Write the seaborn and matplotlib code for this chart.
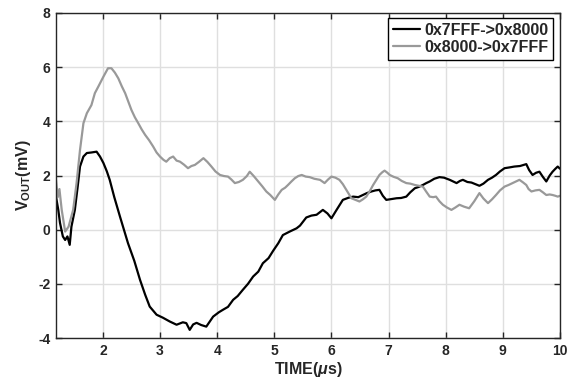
import matplotlib
matplotlib.use("Agg")
import matplotlib.pyplot as plt
import seaborn as sns
import pandas as pd

# ---- data ----
series_names = ["0x7FFF->0x8000", "0x8000->0x7FFF"]

t_black = [1.18, 1.22, 1.25, 1.30, 1.34, 1.38, 1.42, 1.45, 1.51, 1.56, 1.60, 1.66, 1.72, 1.80, 1.89, 1.95,
           2.01, 2.07, 2.12, 2.20, 2.30, 2.44, 2.55, 2.65, 2.74, 2.82, 2.94, 3.05, 3.17, 3.29, 3.40, 3.46,
           3.52, 3.58, 3.64, 3.72, 3.81, 3.93, 4.03, 4.10, 4.19, 4.28, 4.36, 4.45, 4.54, 4.63, 4.72, 4.80,
           4.90, 4.98, 5.07, 5.15, 5.27, 5.39, 5.45, 5.56, 5.65, 5.74, 5.85, 5.93, 6.00, 6.09, 6.20, 6.30,
           6.38, 6.47, 6.55, 6.62, 6.70, 6.77, 6.84, 6.90, 6.96, 7.05, 7.14, 7.22, 7.31, 7.38, 7.46, 7.53,
           7.60, 7.66, 7.72, 7.80, 7.89, 7.97, 8.07, 8.13, 8.19, 8.25, 8.30, 8.38, 8.45, 8.52, 8.59, 8.66,
           8.74, 8.81, 8.88, 8.95, 9.03, 9.12, 9.20, 9.30, 9.41, 9.46, 9.52, 9.58, 9.64, 9.70, 9.76, 9.82,
           9.87, 9.92, 9.96, 10.0]
v_black = [1.22, 0.73, 0.25, -0.25, -0.38, -0.25, -0.56, 0.11, 0.73, 1.60, 2.33, 2.70, 2.83, 2.85, 2.88, 2.70,
           2.46, 2.15, 1.84, 1.20, 0.48, -0.50, -1.15, -1.85, -2.40, -2.84, -3.14, -3.25, -3.39, -3.51, -3.42, -3.45,
           -3.70, -3.50, -3.44, -3.52, -3.58, -3.21, -3.05, -2.96, -2.85, -2.59, -2.45, -2.22, -2.00, -1.73, -1.55, -1.24,
           -1.05, -0.78, -0.50, -0.20, -0.07, 0.05, 0.15, 0.45, 0.52, 0.55, 0.73, 0.60, 0.42, 0.73, 1.10, 1.18,
           1.22, 1.20, 1.28, 1.35, 1.41, 1.45, 1.47, 1.25, 1.10, 1.13, 1.16, 1.17, 1.22, 1.38, 1.53, 1.58,
           1.65, 1.72, 1.78, 1.88, 1.94, 1.92, 1.84, 1.78, 1.72, 1.80, 1.84, 1.76, 1.74, 1.68, 1.62, 1.70,
           1.84, 1.92, 2.02, 2.15, 2.27, 2.30, 2.33, 2.35, 2.42, 2.20, 2.02, 2.10, 2.14, 1.95, 1.78, 2.00,
           2.14, 2.25, 2.33, 2.25]

t_gray = [1.18, 1.21, 1.24, 1.28, 1.34, 1.40, 1.48, 1.54, 1.60, 1.66, 1.72, 1.80, 1.86, 1.92, 2.01, 2.09,
          2.15, 2.21, 2.27, 2.33, 2.39, 2.45, 2.50, 2.56, 2.62, 2.68, 2.74, 2.81, 2.88, 2.94, 3.00, 3.06,
          3.11, 3.17, 3.23, 3.29, 3.35, 3.42, 3.49, 3.55, 3.61, 3.68, 3.76, 3.83, 3.90, 3.97, 4.05, 4.12,
          4.19, 4.25, 4.31, 4.38, 4.45, 4.52, 4.57, 4.64, 4.72, 4.79, 4.86, 4.93, 5.01, 5.07, 5.13, 5.19,
          5.24, 5.30, 5.36, 5.42, 5.48, 5.55, 5.62, 5.70, 5.80, 5.88, 5.94, 6.00, 6.07, 6.14, 6.20, 6.26,
          6.35, 6.42, 6.49, 6.55, 6.61, 6.67, 6.73, 6.79, 6.84, 6.89, 6.93, 6.98, 7.02, 7.09, 7.16, 7.23,
          7.31, 7.38, 7.46, 7.53, 7.60, 7.66, 7.72, 7.78, 7.83, 7.89, 7.95, 8.02, 8.10, 8.17, 8.24, 8.32,
          8.41, 8.50, 8.59, 8.66, 8.74, 8.81, 8.88, 8.95, 9.03, 9.10, 9.17, 9.23, 9.29, 9.35, 9.41, 9.45,
          9.50, 9.57, 9.64, 9.70, 9.76, 9.82, 9.87, 9.92, 9.96, 10.0]
v_gray = [1.84, 1.20, 1.50, 0.73, -0.07, 0.11, 0.73, 1.72, 2.94, 3.93, 4.30, 4.60, 5.04, 5.28, 5.65, 5.96,
          5.96, 5.80, 5.59, 5.30, 5.04, 4.70, 4.42, 4.15, 3.93, 3.70, 3.50, 3.30, 3.07, 2.85, 2.70, 2.58,
          2.51, 2.64, 2.70, 2.55, 2.51, 2.40, 2.27, 2.35, 2.39, 2.50, 2.64, 2.50, 2.33, 2.15, 2.02, 1.98,
          1.96, 1.85, 1.72, 1.76, 1.84, 1.98, 2.14, 1.98, 1.78, 1.60, 1.41, 1.28, 1.10, 1.30, 1.47, 1.55,
          1.65, 1.78, 1.90, 1.98, 2.02, 1.96, 1.94, 1.88, 1.84, 1.72, 1.85, 1.96, 1.92, 1.84, 1.68, 1.47,
          1.16, 1.10, 1.04, 1.12, 1.22, 1.42, 1.65, 1.85, 2.02, 2.12, 2.18, 2.10, 2.02, 1.95, 1.90, 1.80,
          1.72, 1.70, 1.65, 1.62, 1.59, 1.40, 1.22, 1.20, 1.22, 1.05, 0.92, 0.82, 0.73, 0.82, 0.92, 0.85,
          0.79, 1.05, 1.35, 1.15, 0.98, 1.12, 1.28, 1.45, 1.59, 1.65, 1.72, 1.78, 1.84, 1.75, 1.65, 1.50,
          1.41, 1.45, 1.47, 1.38, 1.28, 1.30, 1.28, 1.25, 1.22, 1.25]

x_ticks = [2, 3, 4, 5, 6, 7, 8, 9, 10]
y_ticks = [-4, -2, 0, 2, 4, 6, 8]

# ---- styling ----
sns.set_style("white")
plt.rcParams["font.family"] = ["Liberation Sans", "DejaVu Sans"]
plt.rcParams["font.weight"] = "bold"
plt.rcParams["axes.unicode_minus"] = False
plt.rcParams["mathtext.fontset"] = "custom"
plt.rcParams["mathtext.rm"] = "Liberation Sans:bold"
plt.rcParams["mathtext.it"] = "Liberation Sans:bold:italic"
plt.rcParams["mathtext.bf"] = "Liberation Sans:bold"

df = pd.concat([
    pd.DataFrame({"t": t_black, "v": v_black, "series": series_names[0]}),
    pd.DataFrame({"t": t_gray, "v": v_gray, "series": series_names[1]}),
], ignore_index=True)

palette = {series_names[0]: "#000000", series_names[1]: "#999999"}

fig = plt.figure(figsize=(5.7, 3.88), dpi=100)
ax = fig.add_axes([56 / 570, 50 / 388, 504 / 570, 325 / 388])

sns.lineplot(data=df, x="t", y="v", hue="series", hue_order=series_names, palette=palette,
             estimator=None, sort=False, linewidth=1.6, ax=ax)

ax.set_xlim(1.18, 10)
ax.set_ylim(-4, 8)
ax.set_xticks(x_ticks)
ax.set_yticks(y_ticks)
ax.grid(True, color="#dfdfdf", linewidth=1.0)
ax.set_axisbelow(True)
for s in ax.spines.values():
    s.set_visible(True)
    s.set_color("#262626")
    s.set_linewidth(1.0)
ax.tick_params(direction="in", length=4, width=1, color="#262626",
               bottom=True, left=True, top=True, right=True,
               labelsize=10, pad=4, labelcolor="#262626")
for lab in ax.get_xticklabels() + ax.get_yticklabels():
    lab.set_fontweight("bold")

ax.set_xlabel(r"TIME($\mu$s)", fontsize=11.5, fontweight="bold", color="#262626", labelpad=2)
ax.set_ylabel(r"V$_{\mathrm{OUT}}$(mV)", fontsize=11.5, fontweight="bold", color="#262626", labelpad=4)

handles, labels = ax.get_legend_handles_labels()
leg = ax.legend(handles, labels, loc="upper right", bbox_to_anchor=(0.986, 0.985), borderaxespad=0,
                frameon=True, fancybox=False, edgecolor="#000000", framealpha=1,
                prop={"weight": "bold", "size": 11.5}, handlelength=1.7, handletextpad=0.25,
                labelspacing=0.15, borderpad=0.3)
leg.get_frame().set_linewidth(1.0)

fig.savefig("out.png", dpi=100)
